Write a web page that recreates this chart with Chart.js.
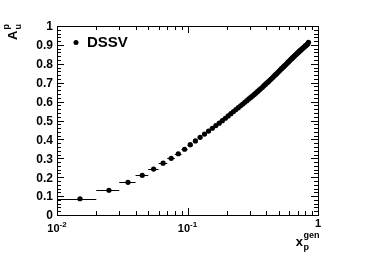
<!DOCTYPE html>
<html>
<head>
<meta charset="utf-8">
<script src="https://cdn.jsdelivr.net/npm/chart.js@4/dist/chart.umd.min.js"></script>
<style>
  html, body { margin: 0; padding: 0; background: #fff; }
  #wrap { position: relative; width: 374px; height: 253px; }
</style>
</head>
<body>
<div id="wrap"><canvas id="c"></canvas></div>
<script>
// bin centres (x_p^gen) and A_u^p
var xCenters = [
	0.015, 0.025, 0.035, 0.045, 0.055, 0.065, 0.075, 0.085, 0.095,
	0.105, 0.115, 0.125, 0.135, 0.145, 0.155, 0.165, 0.175, 0.185, 0.195,
	0.205, 0.215, 0.225, 0.235, 0.245, 0.255, 0.265, 0.275, 0.285, 0.295,
	0.305, 0.315, 0.325, 0.335, 0.345, 0.355, 0.365, 0.375, 0.385, 0.395,
	0.405, 0.415, 0.425, 0.435, 0.445, 0.455, 0.465, 0.475, 0.485, 0.495,
	0.505, 0.515, 0.525, 0.535, 0.545, 0.555, 0.565, 0.575, 0.585, 0.595,
	0.605, 0.615, 0.625, 0.635, 0.645, 0.655, 0.665, 0.675, 0.685, 0.695,
	0.705, 0.715, 0.725, 0.735, 0.745, 0.755, 0.765, 0.775, 0.785, 0.795,
	0.805, 0.815, 0.825, 0.835, 0.845
];
var asymValues = [
	0.086, 0.131, 0.173, 0.210, 0.243, 0.274, 0.300, 0.324, 0.348,
	0.372, 0.392, 0.411, 0.428, 0.444, 0.459, 0.473, 0.486, 0.499, 0.512,
	0.524, 0.536, 0.547, 0.558, 0.568, 0.578, 0.587, 0.596, 0.605, 0.614,
	0.622, 0.630, 0.638, 0.646, 0.654, 0.662, 0.669, 0.676, 0.684, 0.691,
	0.698, 0.704, 0.711, 0.718, 0.725, 0.731, 0.738, 0.744, 0.750, 0.756,
	0.762, 0.768, 0.774, 0.779, 0.785, 0.790, 0.795, 0.800, 0.806, 0.811,
	0.816, 0.821, 0.826, 0.830, 0.835, 0.839, 0.844, 0.848, 0.852, 0.856,
	0.860, 0.864, 0.868, 0.872, 0.875, 0.879, 0.882, 0.886, 0.889, 0.893,
	0.896, 0.899, 0.902, 0.906, 0.914
];
var xHalfWidth = 0.005;

var yTickValues = [0, 0.1, 0.2, 0.3, 0.4, 0.5, 0.6, 0.7, 0.8, 0.9, 1];
var yTickLabels = ['0', '0.1', '0.2', '0.3', '0.4', '0.5', '0.6', '0.7', '0.8', '0.9', '1'];
var xTickValues = [0.01, 0.1, 1];
var xTickBases = ['10', '10', '1'];
var xTickExps = ['-2', '-1', ''];

var FONT = '"Liberation Sans", Arial, Helvetica, sans-serif';

function font( size ) {
	return 'bold ' + size + 'px ' + FONT;
}

var points = xCenters.map( function( x, i ) {
	return { x: x, y: asymValues[ i ] };
} );

// horizontal bin-width bars
var errorBars = {
	id: 'errorBars',
	beforeDatasetsDraw: function( chart ) {
		var ctx = chart.ctx;
		var xs = chart.scales.x;
		var ys = chart.scales.y;
		ctx.save();
		ctx.strokeStyle = '#000';
		ctx.lineWidth = 1;
		ctx.beginPath();
		xCenters.forEach( function( x, i ) {
			var py = Math.round( ys.getPixelForValue( asymValues[ i ] ) ) + 0.5;
			ctx.moveTo( xs.getPixelForValue( x - xHalfWidth ), py );
			ctx.lineTo( xs.getPixelForValue( x + xHalfWidth ), py );
		} );
		ctx.stroke();
		ctx.restore();
	}
};

// ROOT style frame, inward ticks, labels, titles, legend
var rootFrame = {
	id: 'rootFrame',
	afterDraw: function( chart ) {
		var ctx = chart.ctx;
		var a = chart.chartArea;
		var xs = chart.scales.x;
		var ys = chart.scales.y;
		var majorLen = 7;
		var minorLen = 4;
		var i, v, p, d, k;

		ctx.save();
		ctx.strokeStyle = '#000';
		ctx.fillStyle = '#000';
		ctx.lineWidth = 1;

		ctx.strokeRect( a.left + 0.5, a.top + 0.5, a.right - a.left, a.bottom - a.top );

		ctx.beginPath();
		// y ticks, minor every 0.02
		for ( i = 0; i <= 50; i++ ) {
			v = i / 50;
			p = Math.round( ys.getPixelForValue( v ) ) + 0.5;
			var len = ( i % 5 === 0 ) ? majorLen : minorLen;
			ctx.moveTo( a.left, p );
			ctx.lineTo( a.left + len, p );
			ctx.moveTo( a.right, p );
			ctx.lineTo( a.right - len, p );
		}
		// x ticks, log decades
		for ( d = -2; d <= 0; d++ ) {
			for ( k = 1; k <= 9; k++ ) {
				v = k * Math.pow( 10, d );
				if ( v > 1.0001 ) {
					break;
				}
				p = Math.round( xs.getPixelForValue( v ) ) + 0.5;
				var l = ( k === 1 ) ? majorLen : minorLen;
				ctx.moveTo( p, a.bottom );
				ctx.lineTo( p, a.bottom - l );
				ctx.moveTo( p, a.top );
				ctx.lineTo( p, a.top + l );
			}
		}
		ctx.stroke();

		// y tick labels
		ctx.font = font( 12 );
		ctx.textAlign = 'right';
		ctx.textBaseline = 'middle';
		yTickValues.forEach( function( val, j ) {
			ctx.fillText( yTickLabels[ j ], a.left - 4, ys.getPixelForValue( val ) + 1 );
		} );

		// x tick labels with exponents
		ctx.textBaseline = 'alphabetic';
		xTickValues.forEach( function( val, j ) {
			var px = xs.getPixelForValue( val );
			ctx.font = font( 11 );
			var wb = ctx.measureText( xTickBases[ j ] ).width;
			ctx.font = font( 8 );
			var we = ctx.measureText( xTickExps[ j ] ).width;
			var x0 = px - ( wb + we ) / 2;
			ctx.textAlign = 'left';
			ctx.font = font( 11 );
			var base = xTickExps[ j ] ? a.bottom + 17 : a.bottom + 12;
			ctx.fillText( xTickBases[ j ], x0, base );
			ctx.font = font( 8 );
			ctx.fillText( xTickExps[ j ], x0 + wb, base - 5 );
		} );

		// x title: x_p^gen, right aligned to the axis end
		ctx.textAlign = 'left';
		ctx.font = font( 13 );
		var wx = ctx.measureText( 'x' ).width;
		ctx.font = font( 9 );
		var wg = ctx.measureText( 'gen' ).width;
		var tx = a.right + 1 - wg - wx;
		var tb = a.bottom + 31;
		ctx.font = font( 13 );
		ctx.fillText( 'x', tx, tb );
		ctx.font = font( 9 );
		ctx.fillText( 'gen', tx + wx + 0.5, tb - 8 );
		ctx.fillText( 'p', tx + wx + 0.5, tb + 4 );

		// y title: A_u^p, rotated
		ctx.save();
		ctx.translate( 17, a.top + 14 );
		ctx.rotate( -Math.PI / 2 );
		ctx.font = font( 13 );
		var wa = ctx.measureText( 'A' ).width;
		ctx.fillText( 'A', 0, 0 );
		ctx.font = font( 9 );
		ctx.fillText( 'p', wa + 1, -8 );
		ctx.fillText( 'u', wa + 1, 4 );
		ctx.restore();

		// legend
		ctx.beginPath();
		ctx.arc( a.left + 19, a.top + 16.5, 2.5, 0, Math.PI * 2 );
		ctx.fill();
		ctx.font = font( 15 );
		ctx.textBaseline = 'middle';
		ctx.fillText( 'DSSV', a.left + 30, a.top + 17 );

		ctx.restore();
	}
};

new Chart( document.getElementById( 'c' ), {
	type: 'scatter',
	data: {
		datasets: [ {
			label: 'DSSV',
			data: points,
			pointRadius: 2.6,
			pointHoverRadius: 2.6,
			pointBorderWidth: 0,
			pointBackgroundColor: '#000',
			borderColor: '#000',
			showLine: false
		} ]
	},
	options: {
		responsive: true,
		maintainAspectRatio: false,
		animation: false,
		events: [],
		layout: {
			padding: { left: 57, top: 26, right: 56, bottom: 38 }
		},
		plugins: {
			legend: { display: false },
			tooltip: { enabled: false }
		},
		scales: {
			x: {
				type: 'logarithmic',
				min: 0.01,
				max: 1,
				display: false
			},
			y: {
				min: 0,
				max: 1,
				display: false
			}
		}
	},
	plugins: [ errorBars, rootFrame ]
} );
</script>
</body>
</html>
